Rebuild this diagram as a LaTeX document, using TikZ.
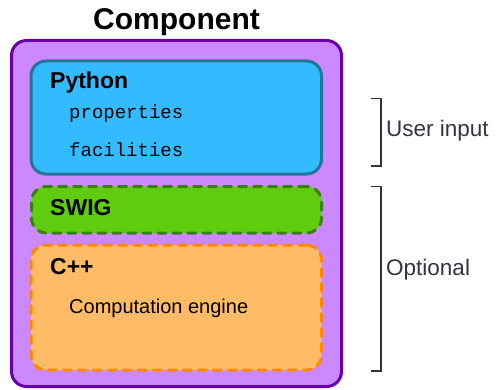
\documentclass[tikz,border=0pt]{standalone}
\usepackage{fontspec}
\setmainfont{Liberation Sans}
\setmonofont{Liberation Mono}
\definecolor{outerfill}{HTML}{CC88FF}
\definecolor{outerline}{HTML}{6600AA}
\definecolor{pyfill}{HTML}{33BBFF}
\definecolor{pyline}{HTML}{227799}
\definecolor{swigfill}{HTML}{5FCC0F}
\definecolor{swigline}{HTML}{3D7F0F}
\definecolor{cppfill}{HTML}{FFBB66}
\definecolor{cppline}{HTML}{FF8800}
\definecolor{brack}{HTML}{333344}
\tikzset{
  box/.style={rectangle, rounded corners=15pt, line width=3pt, inner sep=0pt},
  dashbox/.style={box, dash pattern=on 8pt off 7pt, line cap=round},
  head/.style={anchor=base west, inner sep=0pt, font=\fontsize{23}{23}\selectfont\bfseries},
  mono/.style={anchor=base west, inner sep=0pt, font=\fontsize{19}{19}\selectfont\ttfamily},
  plain/.style={anchor=base west, inner sep=0pt, font=\fontsize{20}{20}\selectfont},
  side/.style={anchor=base west, inner sep=0pt, text=brack, font=\fontsize{22.5}{22.5}\selectfont},
  bracket/.style={draw=brack, line width=1.5pt}
}
\begin{document}
\begin{tikzpicture}[x=1pt,y=-1pt]
\useasboundingbox (0,0) rectangle (497,390);
\node (title) [anchor=base, inner sep=0pt, font=\fontsize{30}{30}\selectfont\bfseries] at (176.5,29.3) {Component};
\node (outer) [box, draw=outerline, fill=outerfill, minimum width=330pt, minimum height=346pt] at (176.5,213.5) {};
\node (py) [box, draw=pyline, fill=pyfill, minimum width=290.5pt, minimum height=113pt] at (176.25,117.5) {};
\node (swig) [dashbox, draw=swigline, fill=swigfill, minimum width=290pt, minimum height=46.5pt] at (176.5,209.75) {};
\node (cpp) [dashbox, draw=cppline, fill=cppfill, minimum width=290.5pt, minimum height=125pt] at (176.25,307.5) {};
\node (pylabel) [head] at (50,88.3) {Python};
\node (props) [mono] at (69,118.3) {properties};
\node (facil) [mono] at (69,157) {facilities};
\node (swiglabel) [head] at (50,215) {SWIG};
\node (cpplabel) [head] at (50,274) {C++};
\node (engine) [plain] at (69,313) {Computation engine};
\draw[bracket] (371,98.5) -- (381,98.5) -- (381,166) -- (371,166);
\draw[bracket] (371,186.5) -- (381,186.5) -- (381,371) -- (371,371);
\node (user) [side] at (386,136.7) {User input};
\node (opt) [side] at (386,275) {Optional};
\end{tikzpicture}
\end{document}
